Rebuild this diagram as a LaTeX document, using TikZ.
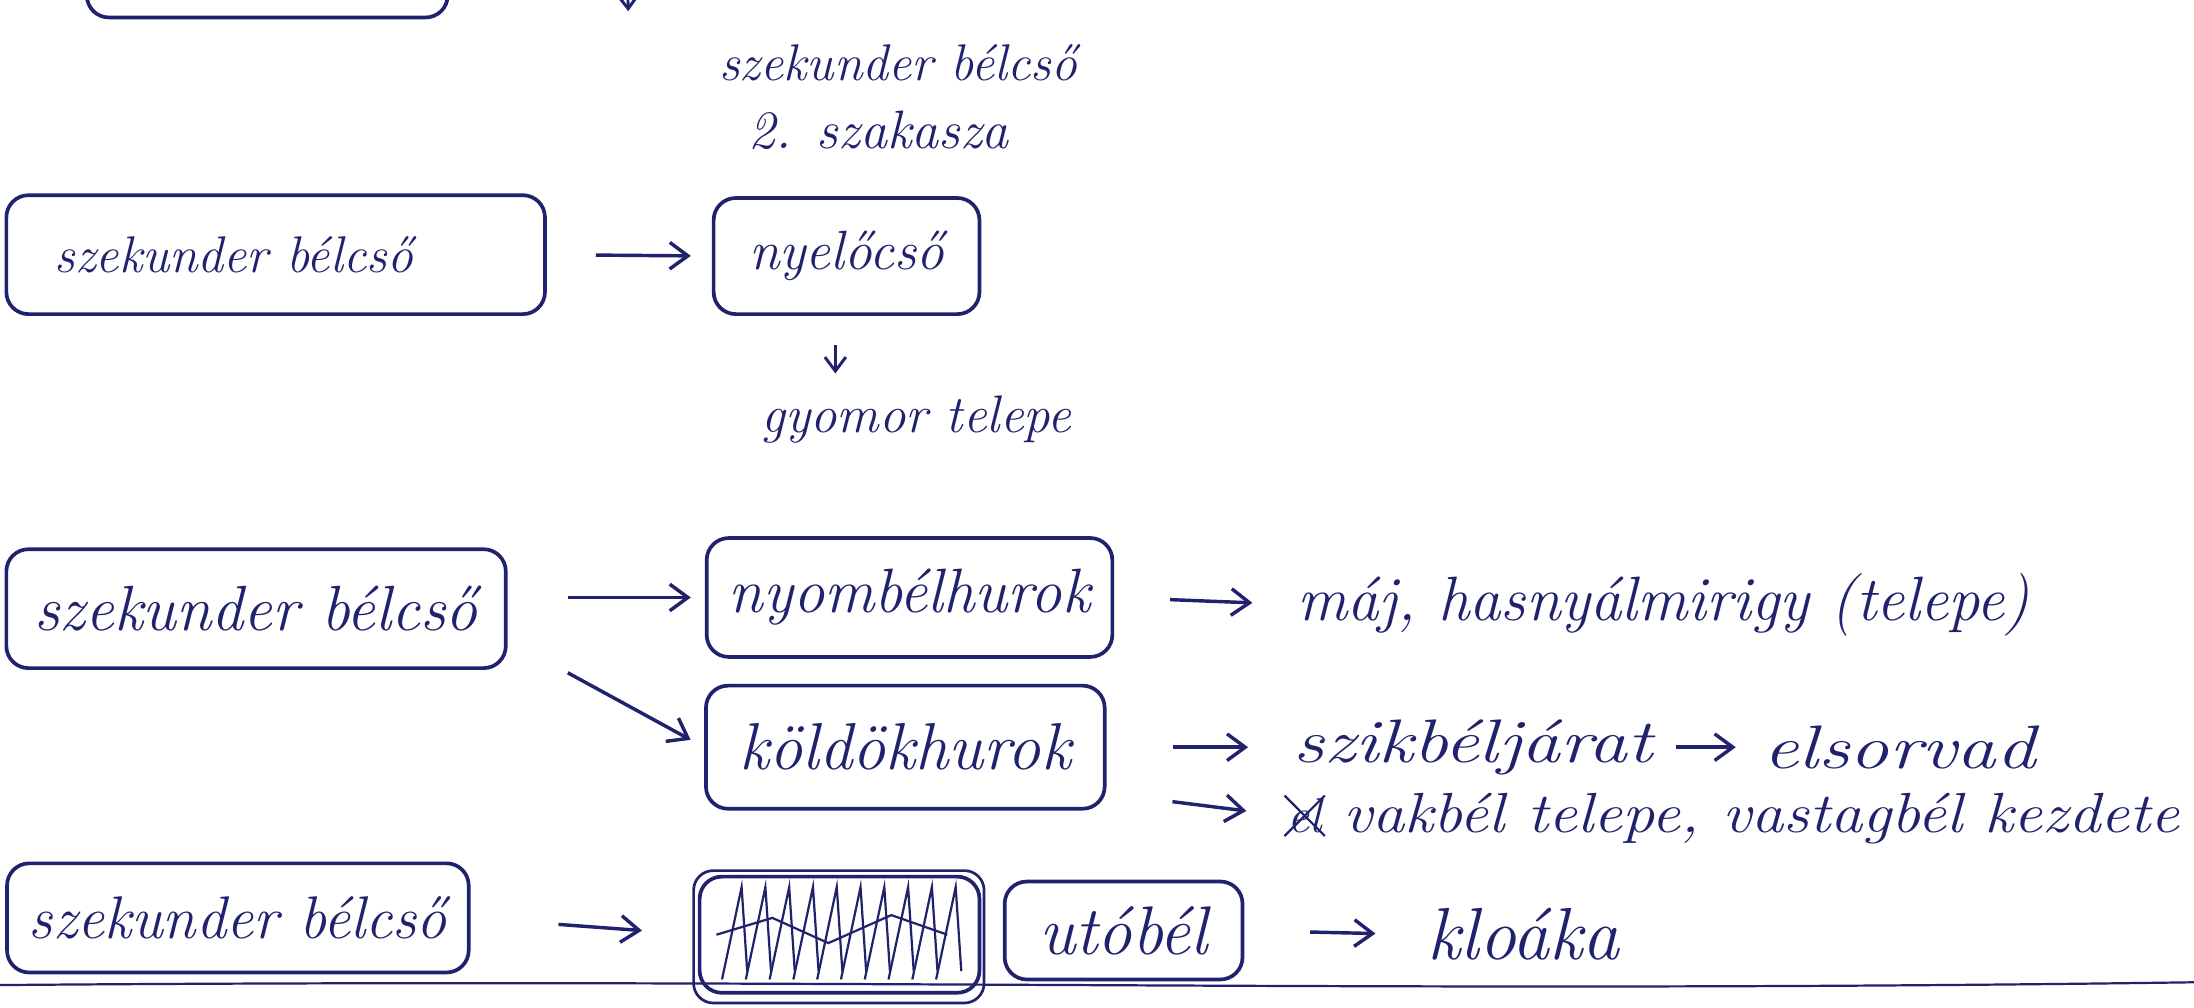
\documentclass[tikz,border=0pt]{standalone}
\usepackage{tikz}
\usetikzlibrary{positioning,arrows.meta}
\definecolor{ink}{RGB}{32,34,110}
\newcommand{\hand}[1][20]{\fontsize{#1}{#1}\selectfont\itshape}
\newcommand{\wide}[2][1.25]{\scalebox{#1}[1]{#2}}

\begin{document}
\begin{tikzpicture}[
x=0.02cm, y=-0.02cm,
box/.style={draw=ink, rounded corners=9pt, line width=1.5pt, minimum height=1.7cm, text=ink, inner sep=2pt},
note/.style={text=ink, inner sep=1pt},
arrow/.style={-{Straight Barb[length=2.6mm, width=3.8mm]}, line width=1.4pt, ink},
small arrow/.style={-{Straight Barb[length=2mm, width=3mm]}, line width=1.2pt, ink},
scribble/.style={ink, line width=0.9pt}
]
\useasboundingbox (0,0) rectangle (1568,720);
\clip (0,0) rectangle (1568,720);

% rest of the previous section
\node[box, minimum width=5.16cm] (prev) at (191,-30) {};
\coordinate (prevA) at (448,-30);
\coordinate (prevB) at (449,8);
\draw[small arrow] (prevA) -- (prevB);

% 2nd section
\node[note, font={\hand[21]}] (seg) at (642,45) {szekunder bélcső};
\node[note, font={\hand[22]}] (segno) at (628,93) {2. szakasza};

\node[box, minimum width=7.7cm, font={\hand[21]}] (tubeA) at (197,182) {szekunder bélcső\rule{1.2cm}{0pt}};
\node[box, minimum width=3.8cm, minimum height=1.66cm, font={\hand[22.5]}] (nyelo) at (605,183) {nyelőcső};
\node[note, font={\hand[21.5]}] (gyomor) at (655,300) {gyomor telepe};
\draw[arrow, shorten <=0.7cm, shorten >=0.3cm] (tubeA.east) -- (nyelo.west);
\draw[small arrow, shorten <=0.42cm, shorten >=0.28cm] ([xshift=-0.16cm]nyelo.south) -- ([xshift=-0.16cm]nyelo.south |- gyomor.north);

% 3rd section
\node[box, minimum width=7.14cm, font={\hand[26]}] (tubeB) at (183,435) {szekunder bélcső};
\node[box, minimum width=5.8cm, font={\hand[25.5]}] (nyomb) at (650,427) {nyombélhurok};
\node[box, minimum width=5.7cm, minimum height=1.76cm, font={\hand[27]}] (koldok) at (647,534) {köldökhurok};
\node[note, anchor=west, font={\hand[25.5]}] (maj) at (925,432) {máj, hasnyálmirigy (telepe)};
\node[note, anchor=west, font={\hand[25]}] (szik) at (922,534) {\wide[1.26]{szikbéljárat}};
\node[note, anchor=west, font={\hand[25]}] (sorvad) at (1258,534) {\wide[1.28]{elsorvad}};
\node[note, anchor=west, font={\hand[20]}] (strike) at (918,583) {el};
\node[note, anchor=west, font={\hand[23]}] (vakbel) at (958,585) {\wide[1.14]{vakbél telepe, vastagbél kezdete}};
\draw[arrow, shorten <=0.86cm, shorten >=0.2cm] (tubeB.east |- nyomb.west) -- (nyomb.west);
\draw[arrow, shorten >=0.22cm] ([shift={(43,2)}]tubeB.south east) -- (koldok.west);
\draw[arrow, shorten <=0.8cm, shorten >=0.6cm] (nyomb.east) -- (maj.west);
\draw[arrow, shorten <=0.95cm, shorten >=0.6cm] (koldok.east) -- (szik.west);
\draw[arrow, shorten <=0.3cm, shorten >=0.35cm] (szik.east) -- (sorvad.west);
\draw[arrow, shorten <=0.95cm, shorten >=0.55cm] ([yshift=-0.66cm]koldok.east) -- (strike.west);
\draw[scribble] (strike.south west) -- (strike.north east);
\draw[scribble] (strike.north west) -- (strike.south east);

% 4th section
\node[box, minimum width=6.6cm, minimum height=1.56cm, font={\hand[24.5]}] (tubeC) at (170,656) {szekunder bélcső};
\node[box, minimum width=4cm, minimum height=1.66cm] (crossed) at (600,668) {};
\node[box, minimum width=3.4cm, minimum height=1.4cm, font={\hand[28]}] (utobel) at (803,665) {utóbél};
\node[note, anchor=west, font={\hand[30]}] (kloaka) at (1018,668) {kloáka};
\draw[arrow, shorten <=1.26cm, shorten >=0.8cm] (tubeC.east) -- (crossed.west);
\draw[arrow, shorten <=0.94cm, shorten >=0.7cm] (utobel.east) -- (kloaka.west);
\draw[ink, line width=1.1pt, rounded corners=8pt] ([shift={(-3,6)}]crossed.south west) rectangle ([shift={(2,-3)}]crossed.north east);
\foreach \i in {0,...,9}
  \draw[scribble] ([shift={(-84+17*\i,32)}]crossed.center) -- ++(14,-66) -- ++(4,60);
\draw[scribble] ([shift={(-88,0)}]crossed.center) -- ++(40,-12) -- ++(40,18) -- ++(45,-20) -- ++(40,14);

% page line
\coordinate (lineL) at (0,704);
\coordinate (lineR) at (1568,702);
\draw[ink, line width=0.9pt] (lineL) .. controls (600,699) and (1000,710) .. (lineR);
\end{tikzpicture}
\end{document}
